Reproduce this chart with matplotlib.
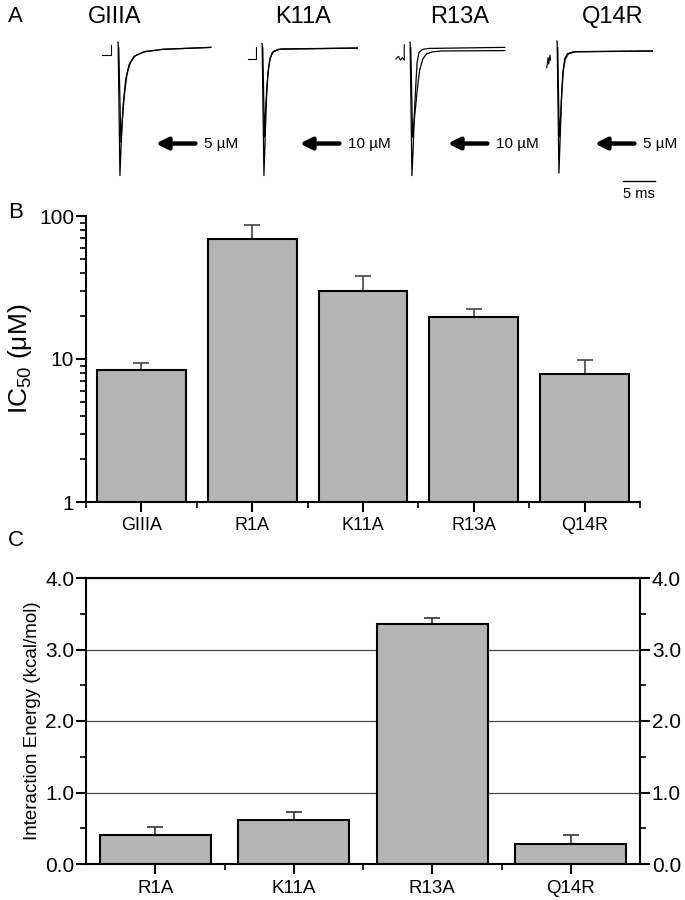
import numpy as np
import matplotlib
matplotlib.use('Agg')
import matplotlib.pyplot as plt
from matplotlib.ticker import FixedLocator, NullFormatter

plt.rcParams['font.family'] = ['Liberation Sans', 'DejaVu Sans']
plt.rcParams['mathtext.default'] = 'regular'

# ---- data ----
ic50_names = ['GIIIA', 'R1A', 'K11A', 'R13A', 'Q14R']
ic50_vals = [8.4, 69, 30, 19.7, 7.9]
ic50_err = [1.0, 17.5, 8.0, 2.5, 1.9]

energy_names = ['R1A', 'K11A', 'R13A', 'Q14R']
energy_vals = [0.40, 0.62, 3.35, 0.28]
energy_err = [0.12, 0.11, 0.09, 0.12]

trace_names = ['GIIIA', 'K11A', 'R13A', 'Q14R']
trace_doses = ['5 µM', '10 µM', '10 µM', '5 µM']

# current traces, time in ms from pulse onset, current normalised to control peak
giiia_ctrl_t = [0, 0.02, 0.3, 0.5, 0.8, 1.2, 1.7, 2.5, 4, 7, 14.5]
giiia_ctrl_i = [0.04, 0.04, -1.0, -0.75, -0.45, -0.25, -0.14, -0.07, -0.035, -0.015, 0.0]
giiia_tox_t = [0.1, 0.12, 0.45, 0.7, 1.0, 1.4, 1.9, 2.7, 4.2, 7, 14.5]
giiia_tox_i = [0.0, 0.0, -0.74, -0.55, -0.37, -0.21, -0.12, -0.065, -0.033, -0.015, 0.0]
giiia_art_t = [-2.5, -1.1, -1.1]
giiia_art_i = [-0.063, -0.063, 0.02]

k11a_ctrl_t = [0, 0.02, 0.3, 0.5, 0.7, 0.9, 1.2, 1.6, 2.5, 15]
k11a_ctrl_i = [0.03, 0.03, -1.0, -0.7, -0.4, -0.22, -0.1, -0.04, -0.015, -0.005]
k11a_tox_t = [0.1, 0.12, 0.38, 0.55, 0.75, 1.0, 1.3, 1.8, 3, 15]
k11a_tox_i = [0.0, 0.0, -0.7, -0.5, -0.32, -0.17, -0.08, -0.03, -0.012, -0.005]
k11a_art_t = [-2.2, -1.0, -1.0]
k11a_art_i = [-0.09, -0.09, 0.0]

r13a_ctrl_t = [0, 0.02, 0.3, 0.5, 0.7, 0.9, 1.1, 1.4, 2, 3, 14.8]
r13a_ctrl_i = [0.04, 0.04, -1.0, -0.78, -0.5, -0.3, -0.12, -0.04, -0.015, -0.008, 0.0]
r13a_tox_t = [0.1, 0.12, 0.4, 0.6, 0.9, 1.2, 1.5, 2.0, 2.6, 3.5, 5, 14.8]
r13a_tox_i = [0.0, 0.0, -0.7, -0.6, -0.45, -0.3, -0.18, -0.09, -0.05, -0.035, -0.028, -0.025]
r13a_art_t = [-2.2, -1.8, -1.5, -1.2, -0.9, -0.9]
r13a_art_i = [-0.09, -0.07, -0.1, -0.08, -0.1, 0.02]

q14r_ctrl_t = [0, 0.02, 0.3, 0.5, 0.7, 0.9, 1.2, 1.6, 2.5, 15]
q14r_ctrl_i = [0.05, 0.05, -0.98, -0.7, -0.4, -0.2, -0.09, -0.05, -0.035, -0.028]
q14r_tox_t = [0.1, 0.12, 0.35, 0.55, 0.75, 1.0, 1.3, 1.8, 3, 15]
q14r_tox_i = [0.0, 0.0, -0.7, -0.55, -0.35, -0.18, -0.09, -0.05, -0.033, -0.028]
q14r_art_t = [-1.6, -1.4, -1.3, -1.1, -1.0]
q14r_art_i = [-0.16, -0.08, -0.13, -0.06, -0.1]

traces = [
    (giiia_ctrl_t, giiia_ctrl_i, giiia_tox_t, giiia_tox_i, giiia_art_t, giiia_art_i),
    (k11a_ctrl_t, k11a_ctrl_i, k11a_tox_t, k11a_tox_i, k11a_art_t, k11a_art_i),
    (r13a_ctrl_t, r13a_ctrl_i, r13a_tox_t, r13a_tox_i, r13a_art_t, r13a_art_i),
    (q14r_ctrl_t, q14r_ctrl_i, q14r_tox_t, q14r_tox_i, q14r_art_t, q14r_art_i),
]

W, H = 685, 900
fig = plt.figure(figsize=(W / 100, H / 100), dpi=100)


def px_axes(left, top, right, bottom):
    return fig.add_axes([left / W, 1 - bottom / H, (right - left) / W, (bottom - top) / H])


bar_color = '#b4b4b4'
narrow = ['Liberation Sans Narrow', 'Liberation Sans', 'DejaVu Sans']

# ---- panel A ----
spike_px = [118, 262, 410, 557]
title_px = [115, 303, 460, 613]
for k in range(4):
    ax = px_axes(spike_px[k] - 3 * 6.4, 32, spike_px[k] + 15 * 6.4, 182)
    ax.set_xlim(-3, 15)
    ax.set_ylim(-1.05, 0.12)
    ax.axis('off')
    ct, ci, tt, ti, at, ai = traces[k]
    ax.plot(ct, ci, color='black', lw=0.9)
    ax.plot(tt, ti, color='black', lw=0.9)
    ax.plot(at, ai, color='black', lw=0.8)
    ax.annotate('', xy=(5.9, -0.75), xytext=(12.1, -0.75),
                arrowprops=dict(arrowstyle='-|>,head_length=0.5,head_width=0.25',
                                lw=3.2, color='black', shrinkA=0, shrinkB=0,
                                mutation_scale=14), annotation_clip=False)
    ax.text(13.5, -0.75, trace_doses[k], fontsize=11, va='center', ha='left',
            clip_on=False)
    fig.text(title_px[k] / W, 1 - 17 / H, trace_names[k], fontsize=17,
             ha='center', va='center', family=narrow)
    if k == 3:
        ax.plot([10.3, 15.3], [-1.04, -1.04], color='black', lw=1.0, clip_on=False)
        ax.text(12.8, -1.14, '5 ms', fontsize=10.5, ha='center', va='center',
                clip_on=False)

fig.text(8 / W, 1 - 17 / H, 'A', fontsize=16, ha='left', va='center', family=narrow)
fig.text(8 / W, 1 - 213 / H, 'B', fontsize=16, ha='left', va='center', family=narrow)
fig.text(8 / W, 1 - 540 / H, 'C', fontsize=16, ha='left', va='center', family=narrow)

# ---- panel B ----
axB = px_axes(86, 216, 640, 502)
xb = np.arange(len(ic50_names))
axB.bar(xb, ic50_vals, width=0.8, color=bar_color, edgecolor='black', linewidth=1.5,
        zorder=2)
axB.errorbar(xb, ic50_vals, yerr=[np.zeros(len(xb)), ic50_err], fmt='none',
             ecolor='#444444', elinewidth=1.2, capsize=6, capthick=1.2, zorder=1)
axB.set_yscale('log')
axB.set_ylim(1, 100)
axB.set_xlim(-0.5, len(xb) - 0.5)
axB.set_yticks([1, 10, 100])
axB.set_yticklabels(['1', '10', '100'])
axB.yaxis.set_minor_locator(FixedLocator([2, 3, 4, 5, 6, 7, 8, 9, 20, 30, 40, 50, 60, 70, 80, 90]))
axB.yaxis.set_minor_formatter(NullFormatter())
axB.set_xticks(xb)
axB.set_xticklabels(ic50_names)
axB.xaxis.set_minor_locator(FixedLocator(np.arange(-0.5, len(xb), 1.0)))
for s in ['top', 'right']:
    axB.spines[s].set_visible(False)
for s in ['left', 'bottom']:
    axB.spines[s].set_linewidth(1.5)
axB.tick_params(axis='y', which='major', direction='out', length=7.5, width=1.5,
                labelsize=15, pad=1)
axB.tick_params(axis='y', which='minor', direction='out', length=4.5, width=1.2)
axB.tick_params(axis='x', which='major', direction='out', length=7.5, width=1.5,
                labelsize=13, pad=3)
axB.tick_params(axis='x', which='minor', direction='out', length=4, width=1.2)
axB.set_ylabel(r'IC$_{50}$ ($\mu$M)', fontsize=19, labelpad=4)

# ---- panel C ----
axC = px_axes(86, 578, 640, 864)
xc = np.arange(len(energy_names))
axC.yaxis.grid(True, which='major', color='#444444', lw=0.9, zorder=0)
axC.set_axisbelow(True)
axC.bar(xc, energy_vals, width=0.8, color=bar_color, edgecolor='black', linewidth=1.5,
        zorder=2)
axC.errorbar(xc, energy_vals, yerr=[np.zeros(len(xc)), energy_err], fmt='none',
             ecolor='#333333', elinewidth=1.2, capsize=6, capthick=1.2, zorder=1)
axC.set_ylim(0, 4)
axC.set_xlim(-0.5, len(xc) - 0.5)
axC.set_yticks([0, 1, 2, 3, 4])
axC.set_yticklabels(['0.0', '1.0', '2.0', '3.0', '4.0'])
axC.yaxis.set_minor_locator(FixedLocator([0.5, 1.5, 2.5, 3.5]))
axC.set_xticks(xc)
axC.set_xticklabels(energy_names)
axC.xaxis.set_minor_locator(FixedLocator([0.5, 1.5, 2.5]))
for s in axC.spines.values():
    s.set_linewidth(1.5)
axC.tick_params(axis='y', which='major', direction='out', length=7.5, width=1.5,
                labelsize=15, pad=1, right=True, labelright=True)
axC.tick_params(axis='y', which='minor', direction='out', length=4.5, width=1.2,
                right=True)
axC.tick_params(axis='x', which='major', direction='out', length=7.5, width=1.5,
                labelsize=13.5, pad=4)
axC.tick_params(axis='x', which='minor', direction='out', length=4, width=1.2)
axC.set_ylabel('Interaction Energy (kcal/mol)', fontsize=13.5, labelpad=3)

fig.savefig('out.png', dpi=100)
